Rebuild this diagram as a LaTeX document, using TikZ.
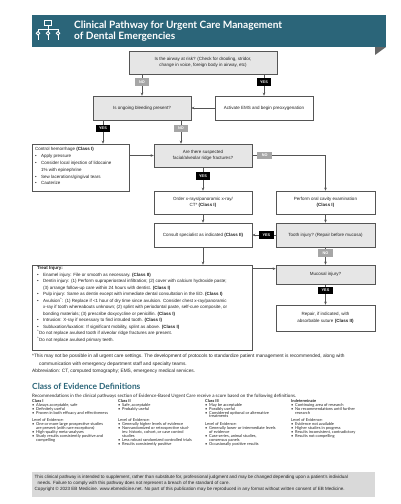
\documentclass[tikz,border=0pt]{standalone}
\usepackage{fontspec}
\setmainfont{Liberation Sans}
\newfontfamily\headfont{Lato}
\usetikzlibrary{arrows.meta}
\definecolor{tealA}{HTML}{2B6579}
\definecolor{boxgrey}{HTML}{E6E6E6}
\definecolor{nogrey}{HTML}{A6A6A6}
\definecolor{footgrey}{HTML}{D9D9D9}
\definecolor{edgec}{HTML}{555555}
\definecolor{txt}{HTML}{222222}
\newcommand\fs{\fontsize{4.5}{6.5}\selectfont}
\newcommand\fsl{\fontsize{3.8}{4}\selectfont\bfseries}
\newcommand\bu{\makebox[6pt][l]{\textbullet}}
\newcommand\ii{\hspace*{6pt}}
\newcommand\cbu{\makebox[4pt][l]{\textbullet}}
\newcommand\cii{\hspace*{4pt}}
\tikzset{
  box/.style={draw=edgec, line width=0.6pt, inner sep=1pt, align=center, font=\fs, text=txt},
  gbox/.style={box, fill=boxgrey},
  wbox/.style={box, fill=white},
  sz/.style 2 args={minimum width=#1pt, minimum height=#2pt},
  lab/.style={inner sep=0pt, minimum width=14.5pt, minimum height=7.5pt, font=\fsl},
  yeslab/.style={lab, fill=black, text=white},
  nolab/.style={lab, fill=nogrey, text=white},
  arr/.style={draw=edgec, line width=0.6pt, -{Stealth[length=3pt,width=2.6pt]}},
  txtnode/.style={inner sep=0pt, align=left, text=txt},
}
\begin{document}
\begin{tikzpicture}[x=1pt,y=-1pt]
\useasboundingbox (0,0) rectangle (400,504);
% header banner
\fill[tealA] (32,15) rectangle (386,47);
\fill[gray!80!black] (375,47) -- (386,47) -- (375,55) -- cycle;
\begin{scope}[draw=white, line width=0.9pt]
  \draw (44.5,20) rectangle (51.5,25.5);
  \draw (48,25.5) -- (48,29) (38,29) -- (58,29);
  \draw (38,29) -- (38,31.5) (48,29) -- (48,31.5) (58,29) -- (58,31.5);
  \draw (38,33.3) circle (1.8) (48,33.3) circle (1.8) (58,33.3) circle (1.8);
  \draw (38,35.1) -- (38,40) (48,35.1) -- (48,40) (58,35.1) -- (58,40);
\end{scope}
\node[anchor=west, inner sep=0pt, text=white, align=left,
  font=\headfont\bfseries\fontsize{10.1}{11}\selectfont] (title) at (74,31.5)
  {Clinical Pathway for Urgent Care Management\\of Dental Emergencies};

% flow boxes
\node[gbox, sz={148}{23}] (airway) at (203,62.5)
  {Is the airway at risk? (Check for drooling, stridor,\\change in voice, foreign body in airway, etc)};
\node[gbox, sz={98}{24}] (bleed) at (142,108) {Is ongoing bleeding present?};
\node[wbox, sz={98}{24}] (ems) at (264,108) {Activate EMS and begin preoxygenation};
\node[wbox, sz={97}{47}] (control) at (80.5,167.5) {};
\node[txtnode, anchor=north west, font=\fontsize{4.5}{6.8}\selectfont] (controltxt) at (35,147.5)
  {Control hemorrhage \textbf{(Class I)}\\
   \bu Apply pressure\\
   \bu Consider local injection of lidocaine\\
   \ii 1\% with epinephrine\\
   \bu Sew lacerations/gingival tears\\
   \bu Cauterize};
\node[gbox, sz={98}{23}] (fract) at (203,155.5) {Are there suspected\\facial/alveolar ridge fractures?};
\node[wbox, sz={98}{23}] (order) at (203,202.5) {Order x-rays/panoramic x-ray/\\CT* \textbf{(Class I)}};
\node[wbox, sz={99}{23}] (oral) at (325.5,202.5) {Perform oral cavity examination\\\textbf{(Class I)}};
\node[wbox, sz={98}{24}] (consult) at (203,235) {Consult specialist as indicated \textbf{(Class II)}};
\node[gbox, sz={99}{24}] (tooth) at (325.5,235) {Tooth injury? (Repair before mucosa)};
\node[wbox, sz={220}{85}] (treat) at (142,307.5) {};
\node[txtnode, anchor=north west, font=\fs] (treattxt) at (37,266.5)
  {\textbf{Treat Injury:}\\
   \bu Enamel injury: File or smooth as necessary. \textbf{(Class II)}\\
   \bu Dentin injury: (1) Perform supraperiosteal infiltration; (2) cover with calcium hydroxide paste;\\
   \ii (3) arrange follow-up care within 24 hours with dentist. \textbf{(Class I)}\\
   \bu Pulp injury: Same as dentin except with immediate dental consultation in the ED. \textbf{(Class I)}\\
   \bu Avulsion\textsuperscript{\textasciicircum}: (1) Replace if {<}1 hour of dry time since avulsion. Consider chest x-ray/panoramic\\
   \ii x-ray if tooth whereabouts unknown; (2) splint with periodontal paste, self-cure composite, or\\
   \ii bonding materials; (3) prescribe doxycycline or penicillin. \textbf{(Class I)}\\
   \bu Intrusion: X-ray if necessary to find intruded tooth. \textbf{(Class I)}\\
   \bu Subluxation/luxation: If significant mobility, splint as above. \textbf{(Class I)}\\
   \textsuperscript{\textasciicircum}Do not replace avulsed tooth if alveolar ridge fractures are present.\\
   \textsuperscript{\textasciicircum}Do not replace avulsed primary teeth.};
\node[gbox, sz={99}{19}] (mucosal) at (325.5,274.5) {Mucosal injury?};
\node[wbox, sz={99}{26}] (repair) at (325.5,318) {Repair, if indicated, with\\absorbable suture \textbf{(Class II)}};

% connectors
\draw[arr] (airway.south -| bleed.north) -- node[nolab, pos=.36] (no1) {NO} (bleed.north);
\draw[arr] (airway.south -| ems.north) -- node[yeslab, pos=.36] (yes1) {YES} (ems.north);
\draw[arr] (ems.west) -- (bleed.east);
\draw[arr] ([xshift=-39pt]bleed.south) -- node[yeslab, pos=.35] (yes2) {YES} ([xshift=-39pt]bleed.south |- control.north);
\draw[arr] ([xshift=39pt]bleed.south) -- node[nolab, pos=.35] (no2) {NO} ([xshift=39pt]bleed.south |- fract.north);
\draw[arr] (fract.west -| control.east) -- (fract.west);
\draw[arr] (fract.east) -- node[nolab, pos=.17] (no3) {NO} (fract.east -| oral.north) -- (oral.north);
\draw[arr] (fract.south) -- node[yeslab, pos=.38] (yes3) {YES} (order.north);
\draw[arr] (order.south) -- (consult.north);
\draw[arr] (oral.south) -- (tooth.north);
\draw[arr] (tooth.west) -- node[yeslab, pos=.4] (yes4) {YES} (consult.east);
\draw[arr] (tooth.south) -- node[nolab, pos=.33] (no4) {NO} (mucosal.north);
\draw[arr] (consult.south) -- (consult.south |- treat.north);
\draw[arr] ([yshift=-4pt]treat.north east) -- ([yshift=-4pt]mucosal.north west);
\draw[arr] (mucosal.south) -- node[yeslab, pos=.31] (yes5) {YES} (repair.north);

% footnote
\node[txtnode, anchor=north west, font=\fontsize{4.78}{7.5}\selectfont] (foot) at (32,354.3)
  {*This may not be possible in all urgent care settings. The development of protocols to standardize patient management is recommended, along with\\
   \hspace*{7pt}communication with emergency department staff and specialty teams.\\
   Abbreviation: CT, computed tomography; EMS, emergency medical services.};

% class of evidence
\node[anchor=west, inner sep=0pt, text=tealA, font=\headfont\bfseries\fontsize{8.4}{9}\selectfont] (coe) at (32,386) {Class of Evidence Definitions};
\node[anchor=west, inner sep=0pt, text=txt, font=\headfont\fontsize{4.55}{5}\selectfont] (intro) at (32,396.3)
  {Recommendations in the clinical pathways section of Evidence-Based Urgent Care receive a score based on the following definitions.};
\begin{scope}[every node/.style={txtnode, anchor=north west, font=\headfont\fontsize{4.0}{3.95}\selectfont}]
\node (c1) at (32,399) {\textbf{Class I}\\
  \cbu Always acceptable, safe\\
  \cbu Definitely useful\\
  \cbu Proven in both efficacy and effectiveness\\[3.4pt]
  Level of Evidence:\\
  \cbu One or more large prospective studies\\
  \cii are present (with rare exceptions)\\
  \cbu High-quality meta-analyses\\
  \cbu Study results consistently positive and\\
  \cii compelling};
\node (c2) at (118,399) {\textbf{Class II}\\
  \cbu Safe, acceptable\\
  \cbu Probably useful\\
  ~\\[3.4pt]
  Level of Evidence:\\
  \cbu Generally higher levels of evidence\\
  \cbu Nonrandomized or retrospective stud-\\
  \cii ies: historic, cohort, or case control\\
  \cii studies\\
  \cbu Less robust randomized controlled trials\\
  \cbu Results consistently positive};
\node (c3) at (205,399) {\textbf{Class III}\\
  \cbu May be acceptable\\
  \cbu Possibly useful\\
  \cbu Considered optional or alternative\\
  \cii treatments\\[3.4pt]
  Level of Evidence:\\
  \cbu Generally lower or intermediate levels\\
  \cii of evidence\\
  \cbu Case series, animal studies,\\
  \cii consensus panels\\
  \cbu Occasionally positive results};
\node (c4) at (291,399) {\textbf{Indeterminate}\\
  \cbu Continuing area of research\\
  \cbu No recommendations until further\\
  \cii research\\[3.4pt]
  Level of Evidence:\\
  \cbu Evidence not available\\
  \cbu Higher studies in progress\\
  \cbu Results inconsistent, contradictory\\
  \cbu Results not compelling};
\end{scope}

% footer
\fill[footgrey] (32,472) rectangle (375,497);
\node[txtnode, anchor=north west, font=\fontsize{4.55}{6}\selectfont] (footer) at (34.5,475.3)
  {This clinical pathway is intended to supplement, rather than substitute for, professional judgment and may be changed depending upon a patient's individual\\
   \hspace*{3pt}needs. Failure to comply with this pathway does not represent a breach of the standard of care.\\
   Copyright © 2023 EB Medicine. www.ebmedicine.net. No part of this publication may be reproduced in any format without written consent of EB Medicine.};
\end{tikzpicture}
\end{document}
